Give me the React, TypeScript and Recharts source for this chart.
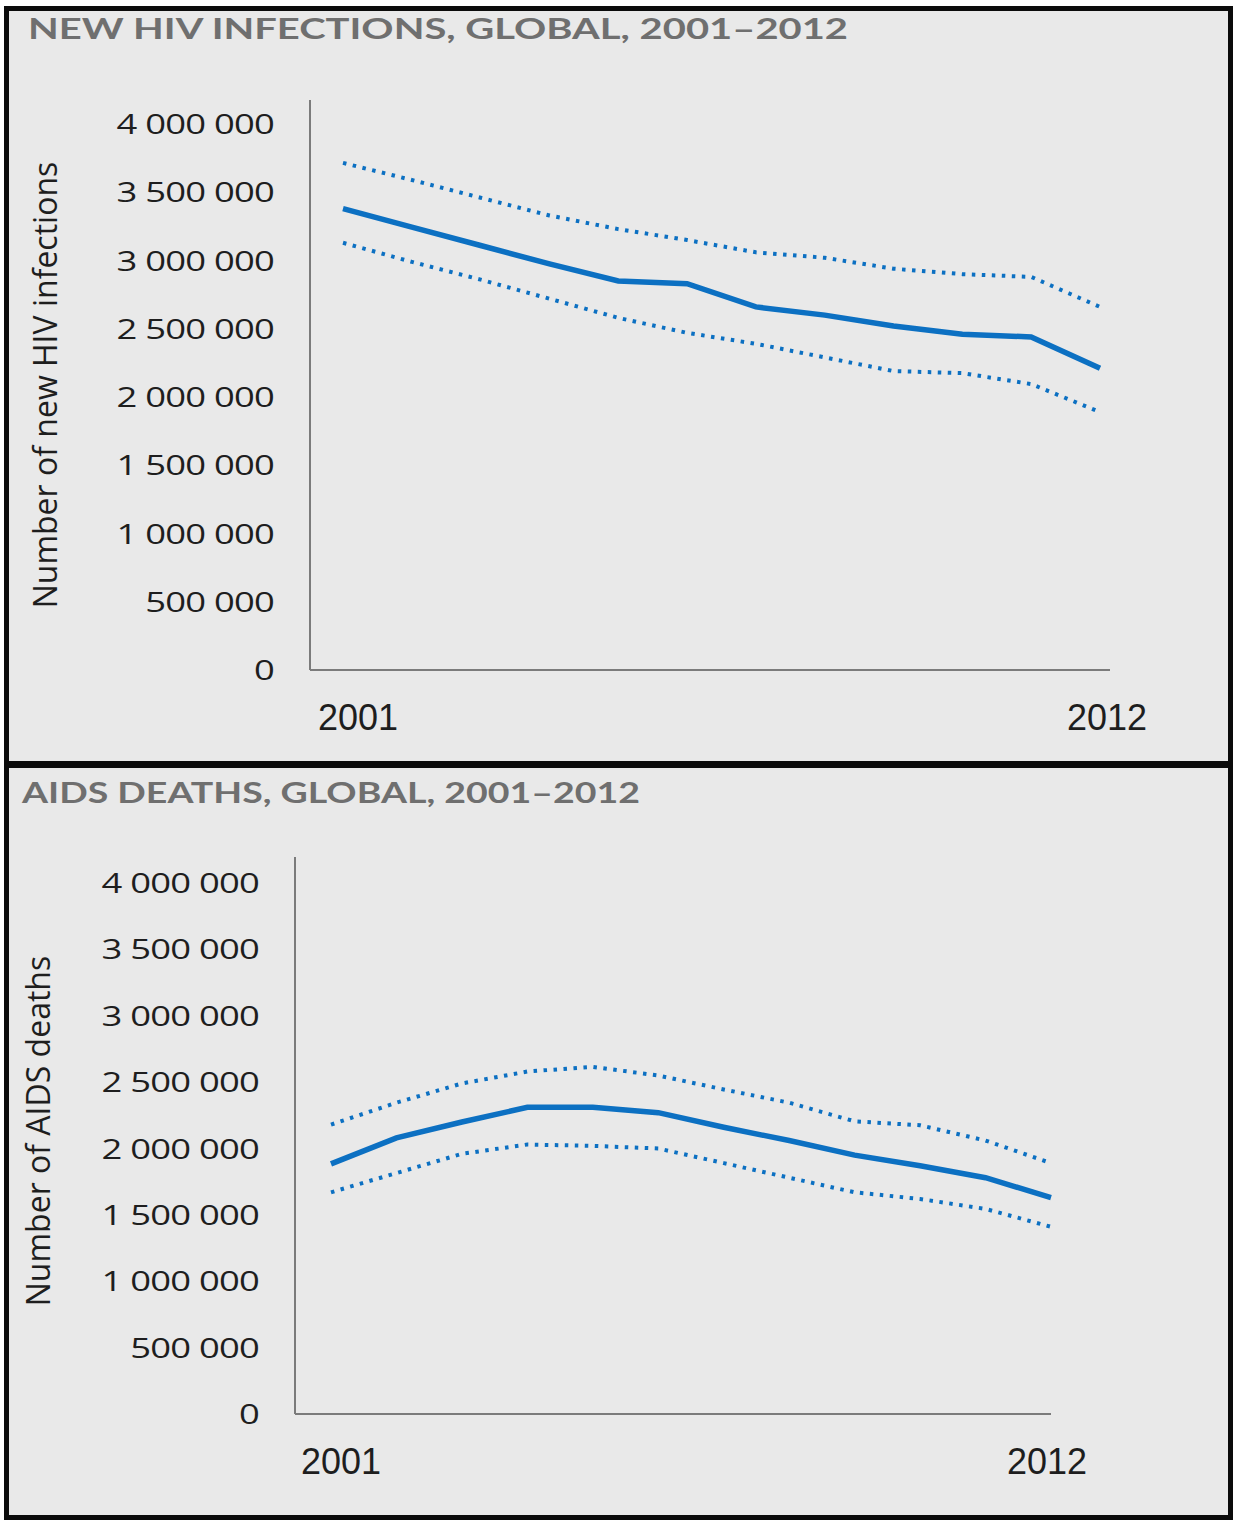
import { Line, LineChart, XAxis, YAxis } from "recharts";

// Yearly estimates with their lower and upper bounds
const years = ["2001", "2002", "2003", "2004", "2005", "2006", "2007", "2008", "2009", "2010", "2011", "2012"];

const infectionsEstimate = [3380000, 3245000, 3110000, 2975000, 2850000, 2830000, 2660000, 2600000, 2520000, 2460000, 2440000, 2210000];
const infectionsUpper = [3715000, 3590000, 3460000, 3330000, 3230000, 3150000, 3060000, 3020000, 2940000, 2900000, 2880000, 2660000];
const infectionsLower = [3130000, 2990000, 2860000, 2720000, 2580000, 2470000, 2390000, 2290000, 2190000, 2175000, 2095000, 1890000];

const deathsEstimate = [1884000, 2080000, 2200000, 2310000, 2310000, 2270000, 2160000, 2060000, 1950000, 1870000, 1780000, 1630000];
const deathsUpper = [2180000, 2345000, 2490000, 2580000, 2615000, 2550000, 2445000, 2345000, 2205000, 2175000, 2060000, 1890000];
const deathsLower = [1670000, 1815000, 1960000, 2030000, 2020000, 2000000, 1890000, 1780000, 1670000, 1620000, 1545000, 1410000];

const yTicks = [0, 500000, 1000000, 1500000, 2000000, 2500000, 3000000, 3500000, 4000000];
const shownYears = ["2001", "2012"];

const BLUE = "#0c70c2";
const AXIS = "#7b7b7b";
const INK = "#1e1e1e";
const TITLE = "#6f6f6f";
const BG = "#e9e9e9";

const formatCount = (v: number) => v.toLocaleString("en-US").replace(/,/g, " ");

function buildRows(est: number[], lo: number[], hi: number[]) {
  return years.map((year, i) => ({ year, est: est[i], lo: lo[i], hi: hi[i] }));
}

function YTick(props: any) {
  const { x, y, payload } = props;
  return (
    <g transform={`translate(${x},${y}) scale(1.3,1)`}>
      <text
        x={0}
        y={0}
        dy="0.36em"
        textAnchor="end"
        fill={INK}
        fontFamily="'Open Sans', sans-serif"
        fontSize={28}
        letterSpacing={-0.6}
      >
        {formatCount(payload.value)}
      </text>
    </g>
  );
}

// only the first and last year are labelled, each nudged on its own
function makeXTick(dxFirst: number, dxLast: number, dy: number) {
  return function XTick(props: any) {
    const { x, y, payload } = props;
    if (!shownYears.includes(payload.value)) return null;
    const dx = payload.value === shownYears[0] ? dxFirst : dxLast;
    return (
      <text
        x={x + dx}
        y={y + dy}
        dy="0.36em"
        textAnchor="middle"
        fill={INK}
        fontFamily="'Liberation Sans', Arial, sans-serif"
        fontSize={36}
      >
        {payload.value}
      </text>
    );
  };
}

type PanelProps = {
  title: string;
  titleWidth: number;
  titleX: number;
  titleY: number;
  yLabel: string;
  yLabelX: number;
  yLabelY: number;
  rows: ReturnType<typeof buildRows>;
  top: number;
  height: number;
  margin: { top: number; right: number; left: number; bottom: number };
  yAxisWidth: number;
  xAxisHeight: number;
  domainMax: number;
  padLeft: number;
  padRight: number;
  tickDxFirst: number;
  tickDxLast: number;
};

function Panel(p: PanelProps) {
  return (
    <div style={{ position: "absolute", left: 0, top: p.top, width: 1233, height: p.height }}>
      <svg style={{ position: "absolute", left: 0, top: 0, overflow: "visible" }} width={1233} height={60}>
        <text
          x={p.titleX}
          y={p.titleY}
          textLength={p.titleWidth}
          lengthAdjust="spacingAndGlyphs"
          fill={TITLE}
          fontFamily="Lato, sans-serif"
          fontWeight={700}
          fontSize={29}
        >
          {p.title}
        </text>
      </svg>
      <div
        style={{
          position: "absolute",
          left: p.yLabelX,
          top: p.yLabelY,
          transform: "translate(-50%, -50%) rotate(-90deg)",
          whiteSpace: "nowrap",
          fontFamily: "'Open Sans', sans-serif",
          fontSize: 32,
          color: INK,
          lineHeight: 1,
        }}
      >
        {p.yLabel}
      </div>
      <div style={{ position: "absolute", left: 0, top: 0 }}>
        <LineChart width={1233} height={p.height} data={p.rows} margin={p.margin}>
          <XAxis
            dataKey="year"
            interval={0}
            height={p.xAxisHeight}
            padding={{ left: p.padLeft, right: p.padRight }}
            tickLine={false}
            tickSize={0}
            tickMargin={0}
            axisLine={{ stroke: AXIS, strokeWidth: 2 }}
            tick={makeXTick(p.tickDxFirst, p.tickDxLast, 47)}
          />
          <YAxis
            type="number"
            domain={[0, p.domainMax]}
            ticks={yTicks}
            width={p.yAxisWidth}
            tickLine={false}
            tickSize={0}
            tickMargin={36}
            axisLine={{ stroke: AXIS, strokeWidth: 2 }}
            tick={<YTick />}
          />
          <Line dataKey="hi" stroke={BLUE} strokeWidth={4} strokeDasharray="3.5 6.5" dot={false} isAnimationActive={false} />
          <Line dataKey="lo" stroke={BLUE} strokeWidth={4} strokeDasharray="3.5 6.5" dot={false} isAnimationActive={false} />
          <Line dataKey="est" stroke={BLUE} strokeWidth={5.5} dot={false} isAnimationActive={false} />
        </LineChart>
      </div>
    </div>
  );
}

export default function App() {
  return (
    <div style={{ position: "absolute", left: 0, top: 0, width: 1233, height: 1521 }}>
      <div
        style={{
          position: "absolute",
          left: 4,
          top: 6,
          width: 1229,
          height: 1514,
          boxSizing: "border-box",
          border: "5px solid #0b0b0b",
          background: BG,
        }}
      />
      <div style={{ position: "absolute", left: 4, top: 761, width: 1229, height: 7, background: "#0b0b0b" }} />
      <Panel
        title="NEW HIV INFECTIONS, GLOBAL, 2001–2012"
        titleWidth={820}
        titleX={28}
        titleY={39}
        yLabel="Number of new HIV infections"
        yLabelX={45}
        yLabelY={385}
        rows={buildRows(infectionsEstimate, infectionsLower, infectionsUpper)}
        top={0}
        height={760}
        margin={{ top: 100, right: 123, left: 20, bottom: 0 }}
        yAxisWidth={290}
        xAxisHeight={90}
        domainMax={4176000}
        padLeft={33}
        padRight={10}
        tickDxFirst={15}
        tickDxLast={7}
      />
      <Panel
        title="AIDS DEATHS, GLOBAL, 2001–2012"
        titleWidth={618}
        titleX={22}
        titleY={35}
        yLabel="Number of AIDS deaths"
        yLabelX={38}
        yLabelY={363}
        rows={buildRows(deathsEstimate, deathsLower, deathsUpper)}
        top={768}
        height={753}
        margin={{ top: 89, right: 182, left: 20, bottom: 0 }}
        yAxisWidth={275}
        xAxisHeight={107}
        domainMax={4196000}
        padLeft={36}
        padRight={0}
        tickDxFirst={10}
        tickDxLast={-4}
      />
    </div>
  );
}
